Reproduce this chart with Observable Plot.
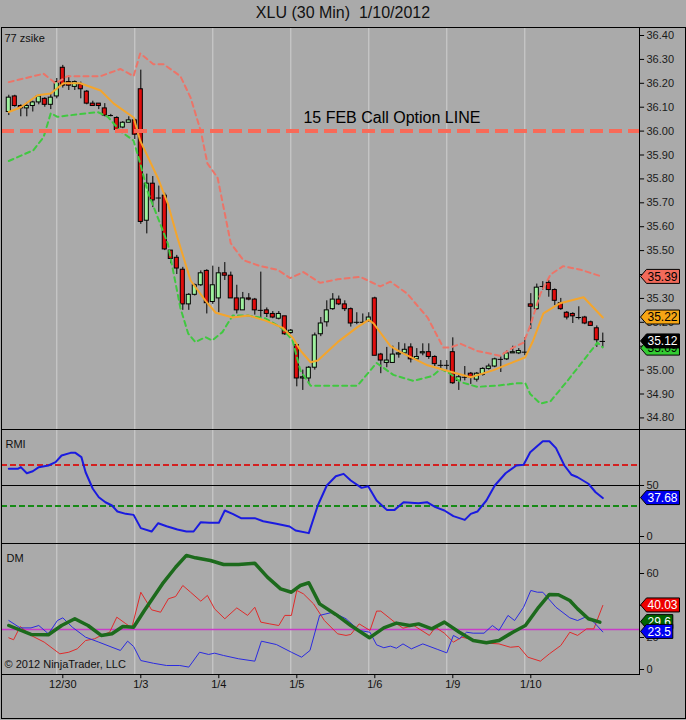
<!DOCTYPE html>
<html><head><meta charset="utf-8">
<script src="https://cdn.jsdelivr.net/npm/d3@7"></script>
<script src="https://cdn.jsdelivr.net/npm/@observablehq/plot@0.6"></script>
<style>
body{margin:0;background:#aaaaaa;}
#wrap{position:relative;width:686px;height:720px;background:#aaaaaa;overflow:hidden;font-family:"Liberation Sans",Arial,sans-serif;color:#111;}
#title{position:absolute;left:0;top:5px;width:686px;text-align:center;font-size:16px;line-height:16px;white-space:pre;}
.panel{position:absolute;left:0;}
.ln{position:absolute;background:#000;z-index:5;}
</style></head>
<body><div id="wrap">
<div id="title">XLU (30 Min)  1/10/2012</div>
<div class="panel" id="p1" style="top:27px"></div>
<div class="panel" id="p2" style="top:429px"></div>
<div class="panel" id="p3" style="top:543px"></div>
<div class="ln" style="left:1px;top:27px;width:685px;height:1px"></div>
<div class="ln" style="left:1px;top:429px;width:685px;height:1px"></div>
<div class="ln" style="left:1px;top:543px;width:685px;height:1px"></div>
<div class="ln" style="left:1px;top:674px;width:638px;height:1px"></div>
<div class="ln" style="left:1px;top:718px;width:685px;height:1px"></div>
<div class="ln" style="left:1px;top:27px;width:1px;height:692px"></div>
<div class="ln" style="left:685px;top:27px;width:1px;height:692px"></div>
<div class="ln" style="left:639px;top:27px;width:1px;height:648px"></div>
</div>
<script>
// ---------------- data ----------------
const dayLabels = ["12/30","1/3","1/4","1/5","1/6","1/9","1/10"];
const dayStartBars = [9,22,35,48,61,74,87];
const dayGridBars = [8,21,34,47,60,73,86];

const open = [36.08,36.145,36.105,36.095,36.105,36.12,36.135,36.11,36.145,36.265,
 36.205,36.185,36.195,36.165,36.115,36.115,36.095,36.065,36.055,36.015,
 36.035,36.045,36.175,35.625,35.78,35.72,35.73,35.50,35.47,35.42,
 35.275,35.315,35.355,35.415,35.285,35.30,35.405,35.395,35.30,35.25,
 35.30,35.295,35.25,35.25,35.235,35.215,35.225,35.155,35.105,34.965,
 34.965,35.01,35.15,35.20,35.255,35.295,35.275,35.255,35.20,35.20,
 35.205,35.30,35.065,35.03,35.03,35.065,35.07,35.095,35.045,35.07,
 35.075,35.055,35.02,35.02,35.075,34.955,34.97,34.985,34.96,34.98,
 35.005,35.015,35.045,35.045,35.07,35.07,35.075,35.275,35.255,35.35,
 35.365,35.335,35.28,35.24,35.235,35.22,35.22,35.20,35.175,35.12];
const high = [36.15,36.15,36.11,36.12,36.125,36.15,36.14,36.155,36.22,36.275,
 36.23,36.21,36.205,36.17,36.125,36.115,36.115,36.07,36.06,36.04,
 36.06,36.05,36.255,35.82,35.81,35.77,35.74,35.50,35.48,35.43,
 35.32,35.36,35.415,35.42,35.435,35.43,35.45,35.41,35.355,35.325,
 35.32,35.30,35.41,35.26,35.245,35.245,35.225,35.17,35.105,35.00,
 35.015,35.155,35.22,35.29,35.32,35.31,35.29,35.26,35.24,35.235,
 35.24,35.305,35.07,35.095,35.10,35.115,35.11,35.11,35.09,35.11,
 35.11,35.06,35.04,35.04,35.135,34.98,35.015,34.99,34.99,35.01,
 35.025,35.05,35.055,35.08,35.10,35.09,35.135,35.32,35.36,35.37,
 35.375,35.34,35.30,35.245,35.24,35.265,35.225,35.205,35.185,35.155];
const low = [36.065,36.10,36.06,36.06,36.08,36.11,36.10,36.09,36.135,36.18,
 36.17,36.17,36.135,36.11,36.105,36.09,36.06,36.06,35.995,36.01,
 36.035,35.965,35.61,35.57,35.68,35.66,35.50,35.445,35.40,35.25,
 35.25,35.31,35.35,35.235,35.275,35.24,35.375,35.30,35.235,35.25,
 35.29,35.23,35.22,35.22,35.215,35.21,35.145,35.15,34.93,34.915,
 34.94,35.00,35.14,35.18,35.25,35.27,35.245,35.18,35.19,35.19,
 35.20,35.06,34.985,35.01,35.03,35.05,35.065,35.03,35.04,35.06,
 35.045,35.015,35.00,35.00,34.94,34.915,34.955,34.94,34.95,34.975,
 35.00,35.01,34.99,35.04,35.07,35.065,35.06,35.17,35.25,35.335,
 35.305,35.27,35.25,35.21,35.195,35.21,35.19,35.185,35.095,35.095];
const close = [36.14,36.105,36.095,36.105,36.12,36.145,36.11,36.14,36.205,36.19,
 36.19,36.205,36.175,36.115,36.105,36.105,36.065,36.065,36.005,36.035,
 36.045,35.985,35.62,35.78,35.71,35.72,35.505,35.465,35.425,35.275,
 35.315,35.355,35.405,35.28,35.355,35.405,35.395,35.30,35.25,35.30,
 35.295,35.25,35.25,35.235,35.22,35.235,35.15,35.165,34.965,34.97,
 35.01,35.145,35.195,35.25,35.295,35.275,35.255,35.195,35.20,35.20,
 35.22,35.06,35.04,35.04,35.065,35.07,35.085,35.045,35.055,35.075,
 35.055,35.025,35.02,35.02,34.945,34.97,34.97,34.97,34.985,35.005,
 35.015,35.045,35.045,35.07,35.075,35.08,35.075,35.265,35.345,35.35,
 35.335,35.29,35.255,35.22,35.225,35.22,35.195,35.185,35.125,35.12];

const upperBand = [[0,36.205],[5.8,36.24],[7.8,36.20],[9.8,36.23],[15.3,36.23],[18.6,36.26],[20.8,36.23],[21.9,36.325],[24.1,36.28],[25.8,36.28],[28.6,36.23],[30.3,36.14],[32,36.00],[33.1,35.865],[34.8,35.805],[37,35.53],[39.1,35.46],[41.9,35.435],[44.8,35.42],[46.9,35.385],[49.1,35.41],[51.9,35.365],[54.8,35.38],[58.6,35.39],[61.9,35.35],[63.6,35.37],[66.4,35.32],[69.8,35.22],[72.4,35.095],[73.6,35.095],[75.3,35.11],[78.1,35.08],[81.9,35.06],[84.1,35.095],[85.8,35.115],[86.9,35.185],[88.6,35.32],[90.3,35.40],[92.4,35.435],[95.3,35.42],[99,35.39]];
const lowerBand = [[0,35.875],[4.1,35.92],[5.8,35.975],[7,36.075],[8.1,36.06],[9.8,36.065],[14.8,36.08],[16.5,36.06],[18.6,36.00],[20.8,35.96],[21.9,35.865],[23.1,35.75],[24.8,35.64],[26.5,35.53],[28.6,35.26],[29.9,35.153],[31.1,35.117],[32.8,35.138],[33.9,35.124],[35.6,35.159],[37.3,35.228],[40,35.228],[42.8,35.216],[45.6,35.174],[47.3,35.124],[48.6,34.998],[50.3,34.935],[53.6,34.935],[58.1,34.935],[59.8,34.985],[61.3,35.03],[64.1,34.98],[67.4,34.955],[70.6,34.975],[72,35.005],[73.6,34.985],[75.3,34.95],[78.1,34.93],[81.4,34.935],[84.8,34.945],[86.1,34.945],[86.9,34.90],[88.6,34.86],[90.3,34.87],[93.1,34.955],[95.3,35.025],[98.1,35.115],[99,35.095]];
const middleLine = [[0,36.08],[2,36.10],[4.8,36.15],[7,36.157],[9.1,36.20],[11.9,36.20],[15.3,36.17],[17.5,36.115],[20.8,36.057],[21.9,35.96],[24.8,35.806],[26.5,35.697],[28.1,35.555],[30.3,35.375],[32.8,35.29],[34.5,35.24],[37.3,35.22],[40,35.228],[42.8,35.207],[45.6,35.178],[47.3,35.136],[48.6,35.082],[50.3,35.033],[51.5,35.04],[54.8,35.117],[58.1,35.18],[60,35.21],[60.8,35.195],[63.6,35.10],[65.3,35.075],[69.8,35.02],[74.1,34.99],[77,34.97],[80.8,35.00],[86.1,35.054],[87.4,35.124],[89.1,35.237],[91.9,35.28],[95.8,35.305],[99,35.22]];
const optionLevel = 36.00;
const optionText = "15 FEB Call Option LINE";
const priceTicks = [36.40,36.30,36.20,36.10,36.00,35.90,35.80,35.70,35.60,35.50,35.40,35.30,35.20,35.10,35.00,34.90,34.80];

const rmi = [[0,66.4],[1.5,66.4],[2,68],[3,62],[4,64],[5,68],[6.6,69.6],[7.8,72.9],[8.8,79.4],[10.3,82],[11.1,82],[12.1,77.8],[12.8,63],[14,46.8],[15,38.5],[16.1,33.6],[17.2,30.4],[18.1,24.5],[19.5,22.2],[20.8,21.2],[22,8.2],[23.8,4.9],[24.9,13],[26.3,10],[28.1,6.9],[29.6,4.9],[30.8,4.9],[32,14],[33.4,13.4],[35,13.4],[36,25.5],[37.3,22.2],[38.7,18],[41,18],[42.4,15],[44.6,12.4],[46.8,9.8],[47.8,5.9],[50,3.3],[51.5,30.4],[53,50],[54.5,59],[55.8,61.4],[57,54.9],[58.8,47.7],[59.9,49.3],[61.3,35.3],[63,26.1],[64.3,26.1],[65.8,33.6],[68.3,32.6],[69.7,33.6],[71.1,28.8],[72.6,25.5],[74.1,20],[76,16.3],[77,22.2],[78.1,24.5],[79.6,35.3],[81,50],[82.8,62],[84.6,69.6],[85.8,70.3],[86.9,82.6],[89,93.4],[90.1,93.4],[91.2,86.6],[92.6,69.6],[93.8,60.5],[94.8,58.1],[96.6,51.7],[97.8,43.4],[99,37.68]];
const rmiLevels = {upper:70, mid:50, lower:30};
const rmiTicks = [0,50];

const dmAdx = [[0,27.5],[3.7,21.9],[6.6,21.7],[8.8,27.5],[11,31.7],[13.2,27.5],[15.4,21.3],[17.2,22.3],[19,26.9],[20.8,26.4],[22.6,36.9],[25.6,53.5],[27.8,63.9],[29.6,71.3],[31.1,69.8],[33.6,68.1],[35.8,65.6],[38.3,65.6],[41,66.4],[43.1,57.7],[45.3,50.4],[47.1,48.3],[48.6,52.5],[50,54.2],[51.8,41.0],[54.5,34.4],[57,27.5],[60.1,19.8],[62.5,26.0],[64.6,29.0],[66.8,27.5],[68.3,28.5],[70.5,25.4],[72.6,29.6],[75.1,23.3],[77.4,18.1],[79.6,16.7],[81.7,18.1],[84,23.3],[86.1,27.5],[88.3,38.9],[90.1,46.9],[91.6,46.7],[93.5,43.1],[94.8,37.9],[96.6,31.7],[98.5,29.6]];
const dmPlus = [[0,19.8],[0.8,18.6],[1.9,26.9],[3.7,21.3],[5.9,17.1],[8.5,9.8],[10,10.8],[11.4,12.9],[12.8,18.1],[14.3,19.2],[15.4,21.3],[16.8,23.3],[18,32.7],[19.4,28.9],[20.5,26.0],[22,48.3],[23.8,37.3],[25.3,35.8],[26.6,44.2],[27.8,45.6],[29,52.5],[30.3,48.3],[32,42.7],[33.1,46.3],[34.3,37.9],[36,31.7],[38,38.5],[39.8,33.8],[41,38.9],[42,29.6],[43.5,28.5],[45,27.5],[46,33.8],[47.1,33.8],[48,49.4],[49.1,47.3],[50.8,41.0],[52.6,30.6],[54.8,22.3],[56.2,21.3],[57,21.9],[58.4,28.5],[60.2,24.4],[61.3,36.5],[62,36.5],[64.3,29.6],[65.7,25.8],[67.5,27.5],[70.1,21.3],[71.1,26.4],[72.6,22.7],[74.1,17.1],[75.5,20.2],[77.4,18.6],[79.6,16.5],[81.7,16.0],[83.6,13.9],[85,14.4],[86.5,7.7],[88.6,5.2],[90.1,9.8],[92,15],[93.5,23.3],[94.8,21.3],[96.3,25.4],[97.5,25.4],[99,40.03]];
const dmMinus = [[0,30.6],[1.9,26.0],[3.7,26.0],[5,27.5],[6.6,22.3],[8.1,30.6],[9,32.3],[10.6,26.4],[12.8,20.2],[15,17.1],[17.2,13.9],[18.6,11.9],[19.8,17.7],[20.8,14.4],[22,5.6],[24.1,3.9],[26.3,2.5],[28.5,2.5],[30,1.5],[31.8,10.8],[33.3,9.4],[34.3,10.2],[35.8,8.75],[38.3,6.7],[41,5.2],[42.1,17.7],[44.6,15.6],[47.1,10.8],[48.8,7.7],[50.2,11.9],[51.8,33.8],[54,35.8],[56.2,31.7],[58.4,24.4],[60.2,23.3],[61.3,15.4],[62.5,13.6],[63.6,14.6],[64.6,13.3],[65.7,16.0],[67.1,12.9],[69,16.0],[71.5,12.5],[73,10.4],[74.1,21.3],[75.1,19.2],[76.3,23.3],[77.4,22.7],[79.2,22.7],[80.6,27.5],[81.7,24.4],[83.2,33.8],[84.3,30.6],[85.8,38.9],[87,49.4],[88.1,48.3],[89,48.3],[90.1,43.6],[91.2,38.9],[93.5,32.3],[94.8,30.6],[96.3,33.1],[97.5,29.6],[99,23.5]];
const dmLevel = 25;
const dmTicks = [0,20,40,60];

const priceTags = [
  {value:35.39, text:"35.39", fill:"#f26a5a", color:"#000"},
  {value:35.22, text:"35.22", fill:"#f6a615", color:"#000"},
  {value:35.09, text:"35.09", fill:"#33cc33", color:"#000"},
  {value:35.12, text:"35.12", fill:"#000000", color:"#fff"}
];
const rmiTags = [{value:37.68, text:"37.68", fill:"#0000f0", color:"#fff"}];
const dmTags = [
  {value:40.03, text:"40.03", fill:"#ee0000", color:"#fff"},
  {value:29.6, text:"29.6", fill:"#006400", color:"#fff"},
  {value:23.5, text:"23.5", fill:"#0000f0", color:"#fff"}
];

// ---------------- rendering ----------------
const X_DOMAIN = [-1.2167, 105.117];
const UP = "#9ef09e", DOWN = "#e00d0d";
const baseStyle = {background:"transparent", fontFamily:'"Liberation Sans", Arial, sans-serif', fontSize:"11px", color:"#111", overflow:"visible"};
const bars = d3.range(open.length);
const isDoji = i => Math.abs(close[i]-open[i]) < 0.002;
const upBars = bars.filter(i => !isDoji(i) && close[i] > open[i]);
const downBars = bars.filter(i => !isDoji(i) && close[i] < open[i]);
const dojiBars = bars.filter(isDoji);

function tagMark(list, fallbackY) {
  return function() {
    const a = Array.from(arguments);
    const sc = a.find(o => o && typeof o.y === "function");
    const yf = sc ? sc.y : fallbackY;
    const g = d3.create("svg:g");
    const x0 = 640.5;
    for (const t of list) {
      const cy = yf(t.value);
      const w = t.text.replace(/\./g,"").length*6.67 + (t.text.includes(".")?3.3:0) + 3;
      g.append("path")
        .attr("d", `M${x0},${cy} L${x0+6},${cy-7} L${x0+6+w},${cy-7} L${x0+6+w},${cy+7} L${x0+6},${cy+7} Z`)
        .attr("fill", t.fill).attr("stroke", "#000").attr("stroke-width", 1);
      g.append("text").attr("x", x0+7).attr("y", cy).attr("dy", "0.36em")
        .attr("text-anchor", "start")
        .attr("fill", t.color).attr("font-size", 12)
        .attr("font-family", '"Liberation Sans", Arial, sans-serif').text(t.text);
    }
    return g.node();
  };
}
function yAxisMarks(ticks, fmt) {
  return [
    Plot.ruleY(ticks, {y: d => d, x1: X_DOMAIN[1], x2: X_DOMAIN[1] + 0.85, stroke: "#000", strokeWidth: 1}),
    Plot.text(ticks, {y: d => d, text: fmt, frameAnchor: "right", dx: 7, textAnchor: "start", fill: "#1a1a1a", fontSize: 11})
  ];
}

// price panel
const PY = [34.7515, 36.4335];
const p1 = Plot.plot({
  width: 686, height: 402, marginTop: 0, marginBottom: 0, marginLeft: 1, marginRight: 47,
  x: {domain: X_DOMAIN, axis: null},
  y: {domain: PY, axis: null},
  style: baseStyle,
  marks: [
    Plot.ruleX(dayGridBars, {x: d => d, stroke: "#cfcfcf", strokeWidth: 1}),
    Plot.ruleX(bars, {x: i => i, y1: i => low[i], y2: i => high[i], stroke: "#000", strokeWidth: 1}),
    Plot.rect(upBars, {x1: i => i - 0.34, x2: i => i + 0.34, y1: i => open[i], y2: i => close[i], fill: UP, stroke: "#000", strokeWidth: 1}),
    Plot.rect(downBars, {x1: i => i - 0.34, x2: i => i + 0.34, y1: i => open[i], y2: i => close[i], fill: DOWN, stroke: "#000", strokeWidth: 1}),
    Plot.ruleY(dojiBars, {y: i => close[i], x1: i => i - 0.45, x2: i => i + 0.45, stroke: "#000", strokeWidth: 1}),
    Plot.line(upperBand, {x: d => d[0], y: d => d[1], stroke: "#ec7468", strokeWidth: 2, strokeDasharray: "5,4"}),
    Plot.line(lowerBand, {x: d => d[0], y: d => d[1], stroke: "#40c840", strokeWidth: 2, strokeDasharray: "5,4"}),
    Plot.line(middleLine, {x: d => d[0], y: d => d[1], stroke: "#f4a52c", strokeWidth: 2}),
    Plot.ruleY([optionLevel], {y: d => d, stroke: "#f86a58", strokeWidth: 4, strokeDasharray: "13,6"}),
    Plot.text([optionText], {x: 49.1, y: optionLevel, text: d => d, dy: -13, textAnchor: "start", fontSize: 16, fill: "#000"}),
    Plot.text(["77 zsike"], {frameAnchor: "top-left", text: d => d, dx: 3, dy: 7, lineAnchor: "top", textAnchor: "start", fontSize: 11, fill: "#111"}),
    ...yAxisMarks(priceTicks, d => d.toFixed(2)),
    tagMark(priceTags, d3.scaleLinear(PY, [402, 0]))
  ]
});
document.getElementById("p1").appendChild(p1);

// RMI panel
const RY = [-6.86, 104.9];
const p2 = Plot.plot({
  width: 686, height: 114, marginTop: 0, marginBottom: 0, marginLeft: 1, marginRight: 47,
  x: {domain: X_DOMAIN, axis: null},
  y: {domain: RY, axis: null},
  style: baseStyle,
  marks: [
    Plot.ruleX(dayGridBars, {x: d => d, stroke: "#cfcfcf", strokeWidth: 1}),
    Plot.ruleY([rmiLevels.mid], {y: d => d, stroke: "#000", strokeWidth: 1}),
    Plot.ruleY([rmiLevels.upper], {y: d => d, stroke: "#d42020", strokeWidth: 2, strokeDasharray: "6,3"}),
    Plot.ruleY([rmiLevels.lower], {y: d => d, stroke: "#168a16", strokeWidth: 2, strokeDasharray: "6,3"}),
    Plot.line(rmi, {x: d => d[0], y: d => d[1], stroke: "#1a1ae0", strokeWidth: 2}),
    Plot.text(["RMI"], {frameAnchor: "top-left", text: d => d, dx: 4, dy: 11, lineAnchor: "top", textAnchor: "start", fontSize: 11, fill: "#111"}),
    ...yAxisMarks(rmiTicks, d => String(d)),
    tagMark(rmiTags, d3.scaleLinear(RY, [114, 0]))
  ]
});
document.getElementById("p2").appendChild(p2);

// DM panel
const DY = [-3.125, 78.75];
const p3 = Plot.plot({
  width: 686, height: 177, marginTop: 0, marginBottom: 46, marginLeft: 1, marginRight: 47,
  x: {domain: X_DOMAIN, axis: null},
  y: {domain: DY, axis: null},
  style: baseStyle,
  marks: [
    Plot.ruleX(dayGridBars, {x: d => d, stroke: "#cfcfcf", strokeWidth: 1}),
    Plot.ruleY([dmLevel], {y: d => d, stroke: "#c83cc8", strokeWidth: 1.5}),
    Plot.line(dmPlus, {x: d => d[0], y: d => d[1], stroke: "#e02a2a", strokeWidth: 1}),
    Plot.line(dmMinus, {x: d => d[0], y: d => d[1], stroke: "#2a2ae0", strokeWidth: 1}),
    Plot.line(dmAdx, {x: d => d[0], y: d => d[1], stroke: "#1c6a1c", strokeWidth: 3.5}),
    Plot.text(["DM"], {frameAnchor: "top-left", text: d => d, dx: 5, dy: 11, lineAnchor: "top", textAnchor: "start", fontSize: 11, fill: "#111"}),
    Plot.text(["\u00a9 2012 NinjaTrader, LLC"], {frameAnchor: "bottom-left", text: d => d, dx: 3, dy: -7, textAnchor: "start", fontSize: 11, fill: "#111"}),
    ...yAxisMarks(dmTicks, d => String(d)),
    Plot.ruleX(dayStartBars, {x: d => d, y1: DY[0], y2: DY[0] - 2.6, stroke: "#000", strokeWidth: 1}),
    Plot.text(dayStartBars, {x: d => d, text: (d, i) => dayLabels[i], frameAnchor: "bottom", dy: 13, fontSize: 11, fill: "#111"}),
    tagMark(dmTags, d3.scaleLinear(DY, [131, 0]))
  ]
});
document.getElementById("p3").appendChild(p3);
</script>
</body></html>
